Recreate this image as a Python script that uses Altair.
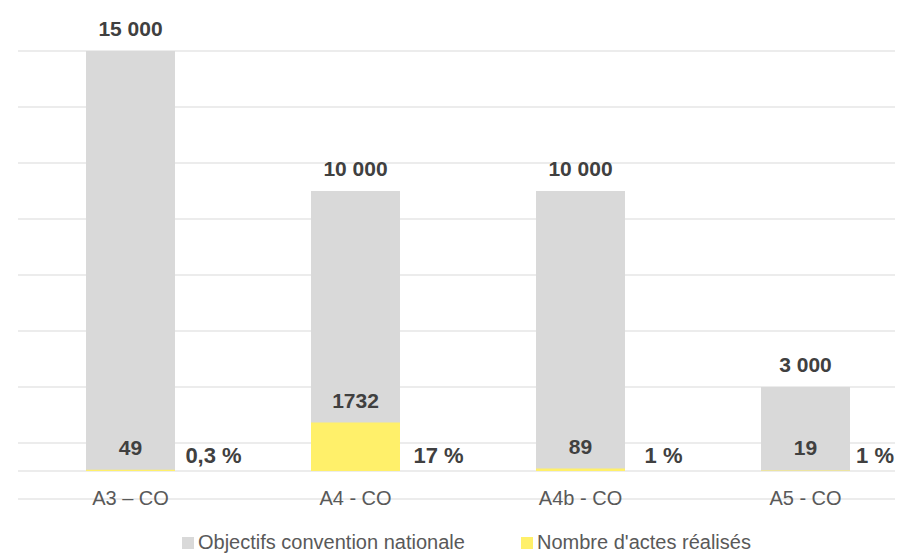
import altair as alt
import pandas as pd

categories = ["A3 – CO", "A4 - CO", "A4b - CO", "A5 - CO"]
objectifs = [15000, 10000, 10000, 3000]
realises = [49, 1732, 89, 19]
pourcentages = ["0,3 %", "17 %", "1 %", "1 %"]
gridlines = [-1000, 1000, 3000, 5000, 7000, 9000, 11000, 13000, 15000]
baseline = [0]

S_OBJ = "Objectifs convention nationale"
S_REAL = "Nombre d'actes réalisés"

df = pd.DataFrame({
    "idx": list(range(len(categories))),
    "cat": categories,
    "obj": objectifs,
    "real": realises,
    "pct": pourcentages,
})
df["obj_lbl"] = [f"{v:,}".replace(",", " ") for v in objectifs]
df["real_lbl"] = [str(v) for v in realises]
df["axis_pos"] = -1000
df["zero"] = 0

grid_df = pd.DataFrame({"v": gridlines})
base_df = pd.DataFrame({"v": baseline})

W = 877          # plot width (page is 903 wide, minus 8px margins and 10px left padding)
STEP = 225       # pixel width of one category slot
FONT = "Liberation Sans"
TXT = "#404040"
yscale = alt.Scale(domain=[-1000, 15000], nice=False, zero=False, padding=0)
xmax = -0.5 + W / STEP
xscale = alt.Scale(domain=[-0.5, xmax], nice=False, zero=False, padding=0)
X = alt.X("idx:Q", scale=xscale, axis=None)
color_scale = alt.Scale(domain=[S_OBJ, S_REAL], range=["#D9D9D9", "#FFF06A"])

grid = alt.Chart(grid_df).mark_rule(color="#D9D9D9", strokeWidth=1).encode(
    y=alt.Y("v:Q", scale=yscale, axis=None)
)
base = alt.Chart(base_df).mark_rule(color="#D9D9D9", strokeWidth=1).encode(
    y=alt.Y("v:Q", scale=yscale, axis=None)
)

legend = alt.Legend(
    title=None, orient="none", legendX=160, legendY=482, direction="horizontal",
    symbolType="square", symbolSize=144, symbolStrokeWidth=0,
    labelFont=FONT, labelFontSize=20, labelColor="#595959", labelLimit=0,
    labelOffset=0, columnPadding=52, padding=0,
)

bars_obj = alt.Chart(df).transform_calculate(serie="'" + S_OBJ + "'").mark_bar(width=89).encode(
    x=X,
    y=alt.Y("obj:Q", scale=yscale, axis=None),
    y2="zero:Q",
    color=alt.Color("serie:N", scale=color_scale, legend=legend),
)
bars_real = alt.Chart(df).transform_calculate(serie='"' + S_REAL + '"').mark_bar(width=89).encode(
    x=X,
    y=alt.Y("real:Q", scale=yscale, axis=None),
    y2="zero:Q",
    color=alt.Color("serie:N", scale=color_scale, legend=legend),
)

lbl_obj = alt.Chart(df).mark_text(
    font=FONT, fontSize=21, fontWeight="bold", color=TXT, baseline="middle", dy=-21
).encode(x=X, y=alt.Y("obj:Q", scale=yscale, axis=None), text="obj_lbl:N")

lbl_real = alt.Chart(df).mark_text(
    font=FONT, fontSize=21, fontWeight="bold", color=TXT, baseline="middle", dy=-21
).encode(x=X, y=alt.Y("real:Q", scale=yscale, axis=None), text="real_lbl:N")

# percentage labels sit to the right of each bar, kept inside the chart area
lbl_pct = alt.Chart(df).transform_calculate(
    px=f"min(datum.idx + {83 / STEP}, {xmax - 20 / STEP})"
).mark_text(
    font=FONT, fontSize=22, fontWeight="bold", color=TXT, baseline="middle", dy=-15
).encode(
    x=alt.X("px:Q", scale=xscale, axis=None),
    y=alt.Y("zero:Q", scale=yscale, axis=None),
    text="pct:N",
)

lbl_cat = alt.Chart(df).mark_text(
    font=FONT, fontSize=20, color="#595959", baseline="middle", dy=0
).encode(x=X, y=alt.Y("axis_pos:Q", scale=yscale, axis=None), text="cat:N")

chart = alt.layer(
    grid, base, bars_obj, bars_real, lbl_obj, lbl_real, lbl_pct, lbl_cat
).properties(
    width=W, height=448,
    padding={"left": 10, "top": 43, "right": 0, "bottom": 54},
    autosize=alt.AutoSizeParams(type="none"),
).configure_view(stroke=None)

chart.save("out.html", embed_options={"renderer": "svg", "actions": False})
